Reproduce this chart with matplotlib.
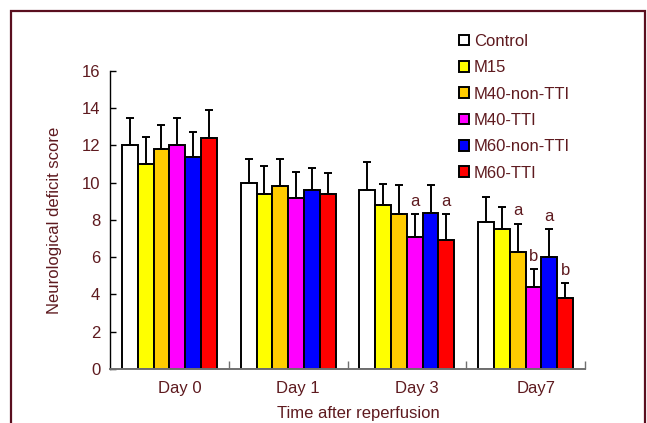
import numpy as np
import matplotlib
matplotlib.use("Agg")
import matplotlib.pyplot as plt
from matplotlib.patches import Rectangle, Patch
import matplotlib.transforms as mtransforms

plt.rcParams['font.family'] = ['Liberation Sans', 'DejaVu Sans']

days = ['Day 0', 'Day 1', 'Day 3', 'Day7']
groups = ['Control', 'M15', 'M40-non-TTI', 'M40-TTI', 'M60-non-TTI', 'M60-TTI']
colors = ['#ffffff', '#ffff00', '#ffcc00', '#ff00ff', '#0000ff', '#ff0000']

# mean score per group, one list per group (Day 0, Day 1, Day 3, Day7)
means = {
    'Control':     [12.0, 10.0, 9.6, 7.9],
    'M15':         [11.0, 9.4, 8.8, 7.5],
    'M40-non-TTI': [11.8, 9.8, 8.3, 6.3],
    'M40-TTI':     [12.0, 9.2, 7.1, 4.4],
    'M60-non-TTI': [11.4, 9.6, 8.4, 6.0],
    'M60-TTI':     [12.4, 9.4, 6.9, 3.8],
}
# upper error (SD)
errs = {
    'Control':     [1.5, 1.25, 1.5, 1.35],
    'M15':         [1.45, 1.5, 1.15, 1.2],
    'M40-non-TTI': [1.3, 1.5, 1.6, 1.5],
    'M40-TTI':     [1.45, 1.35, 1.2, 0.95],
    'M60-non-TTI': [1.35, 1.2, 1.5, 1.5],
    'M60-TTI':     [1.5, 1.1, 1.4, 0.8],
}
# significance letters: (day index, group, letter)
marks = [(2, 'M40-TTI', 'a'), (2, 'M60-TTI', 'a'),
         (3, 'M40-non-TTI', 'a'), (3, 'M40-TTI', 'b'),
         (3, 'M60-non-TTI', 'a'), (3, 'M60-TTI', 'b')]

txt = '#5e1a1f'
frame_col = '#5a0f1f'
fs = 12

fig = plt.figure(figsize=(6.47, 4.23), dpi=100)
ax = fig.add_axes([0.170, 0.1277, 0.7342, 0.7045])

x = np.arange(len(days))
w = 0.133
n = len(groups)
for i, g in enumerate(groups):
    pos = x + (i - (n - 1) / 2) * w
    m = np.array(means[g])
    e = np.array(errs[g])
    ax.bar(pos, m, w, color=colors[i], edgecolor='black', linewidth=1.4, zorder=2)
    ax.errorbar(pos, m, yerr=[np.zeros_like(e), e], fmt='none', ecolor='black',
                elinewidth=1.4, capsize=3, capthick=1.4, zorder=3)

for d, g, letter in marks:
    i = groups.index(g)
    px = d + (i - (n - 1) / 2) * w
    top = means[g][d] + errs[g][d]
    ax.annotate(letter, (px, top), xytext=(0, 6), textcoords='offset points',
                ha='center', va='baseline', fontsize=fs, color=txt)

ax.set_xlim(-0.5, 3.5)
ax.set_ylim(0, 16)
ax.set_yticks(np.arange(0, 17, 2))
ax.tick_params(axis='y', direction='in', length=4, width=1, colors='black',
               labelcolor=txt, labelsize=fs, pad=7)

# ticks at group boundaries, labels at group centres
ax.set_xticks([0.5, 1.5, 2.5, 3.5])
ax.set_xticklabels([])
ax.tick_params(axis='x', which='major', direction='in', length=6, width=1,
               color='#707070')
ax.set_xticks(x, minor=True)
ax.set_xticklabels(days, minor=True)
ax.tick_params(axis='x', which='minor', length=0, labelcolor=txt, labelsize=fs, pad=9)
shift = mtransforms.ScaledTranslation(10 / 100, 0, fig.dpi_scale_trans)
for lab in ax.get_xticklabels(minor=True):
    lab.set_transform(lab.get_transform() + shift)

for s in ['top', 'right']:
    ax.spines[s].set_visible(False)
ax.spines['left'].set_linewidth(1)
ax.spines['bottom'].set_color('#707070')
ax.spines['bottom'].set_linewidth(1.4)

ax.set_ylabel('Neurological deficit score', fontsize=fs, color=txt)
ax.yaxis.set_label_coords(-0.1, 0.5)
ax.set_xlabel('Time after reperfusion', fontsize=fs, color=txt)
ax.xaxis.set_label_coords(0.522, -0.151)
ax.xaxis.label.set_va('center')

handles = [Patch(facecolor=c, edgecolor='black', linewidth=1.4) for c in colors]
fig.legend(handles, groups, loc='upper left', bbox_to_anchor=(459 / 647, 1 - 34 / 423),
           frameon=False, fontsize=fs, handlelength=0.6, handleheight=0.6,
           handletextpad=0.3, labelspacing=0.68, borderpad=0, borderaxespad=0,
           labelcolor=txt)

fig.patches.append(Rectangle((11 / 647, -0.1), 634 / 647, 1.1 - 11.5 / 423,
                             transform=fig.transFigure, fill=False,
                             edgecolor=frame_col, linewidth=1.6, clip_on=False))

fig.savefig('out.png', dpi=100)
